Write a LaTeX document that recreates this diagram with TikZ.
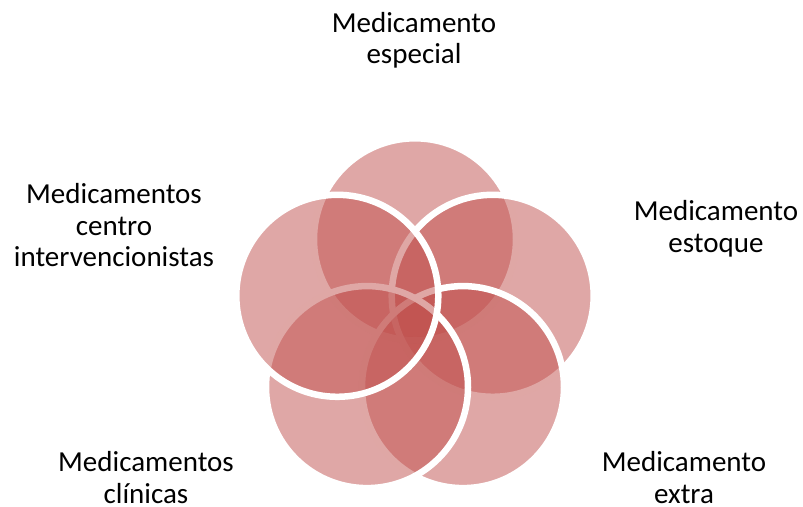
\documentclass[tikz,border=0pt]{standalone}
\usepackage{fontspec}
\setmainfont{Carlito}
\definecolor{petal}{HTML}{C0504D}
\begin{document}
\begin{tikzpicture}[x=1pt,y=-1pt,
  petalc/.style={circle,minimum size=202pt,inner sep=0pt,fill=petal,fill opacity=0.5,draw=white,draw opacity=1,line width=6.5pt},
  lbl/.style={align=center,inner sep=0pt,anchor=base,font=\fontsize{29}{31.5}\selectfont,text=black}]
\useasboundingbox (0,0) rectangle (803,506);
\node[petalc] (c1) at (415,239.3) {};
\node[petalc] (c2) at (492.7,295.8) {};
\node[petalc] (c3) at (463,387.1) {};
\node[petalc] (c4) at (367,387.1) {};
\node[petalc] (c5) at (337.3,295.8) {};
\node[lbl] (l1) at (414,63.5) {Medicamento\\especial};
\node[lbl] (l2) at (716,252) {Medicamento\\estoque};
\node[lbl] (l3) at (684,503) {Medicamento\\extra};
\node[lbl] (l4) at (146,503) {Medicamentos\\clínicas};
\node[lbl] (l5) at (114,266.7) {Medicamentos\\centro\\intervencionistas};
\end{tikzpicture}
\end{document}
